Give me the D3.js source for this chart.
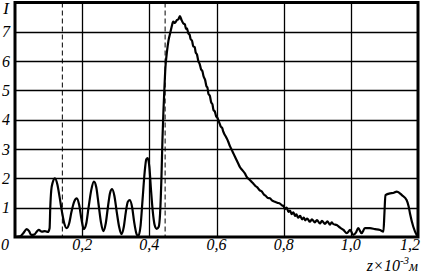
<!DOCTYPE html>
<html>
<head>
<meta charset="utf-8">
<script src="https://cdn.jsdelivr.net/npm/d3@7"></script>
<style>
  body { margin: 0; background: #fff; }
  svg text { font-family: "Liberation Serif", "DejaVu Serif", serif; font-style: italic; }
</style>
</head>
<body>
<div id="chart"></div>
<script>
// Intensity profile along z (x10^-3 m)
const zValues = [0, 0.015, 0.024, 0.035, 0.042, 0.048, 0.057, 0.066, 0.071, 0.080, 0.089, 0.098,
  0.103, 0.105, 0.108, 0.112, 0.119, 0.126, 0.133, 0.140, 0.147, 0.154, 0.161, 0.168, 0.176,
  0.184, 0.191, 0.198, 0.205, 0.212, 0.219, 0.227, 0.235, 0.242, 0.249, 0.256, 0.263, 0.270,
  0.277, 0.283, 0.289, 0.296, 0.303, 0.310, 0.317, 0.324, 0.330, 0.336, 0.342, 0.349, 0.355,
  0.362, 0.367, 0.374, 0.380, 0.386, 0.391, 0.395, 0.400, 0.405, 0.410, 0.416, 0.422, 0.428,
  0.432, 0.436, 0.439, 0.442, 0.445, 0.448, 0.452, 0.457, 0.462, 0.467, 0.471, 0.476,
  0.482, 0.486, 0.491, 0.496, 0.501, 0.506, 0.509, 0.512, 0.516, 0.520, 0.523, 0.527, 0.531,
  0.535, 0.538, 0.542, 0.546, 0.550, 0.554, 0.558, 0.561, 0.566, 0.570, 0.573, 0.576, 0.580,
  0.584, 0.588, 0.591, 0.595, 0.599, 0.603, 0.606, 0.610, 0.613, 0.617, 0.620, 0.624, 0.628,
  0.632, 0.635, 0.640, 0.645, 0.650, 0.655, 0.660, 0.665, 0.670, 0.677, 0.685, 0.690, 0.697,
  0.703, 0.710, 0.716, 0.721, 0.728, 0.735, 0.741, 0.747, 0.753, 0.759, 0.766, 0.774, 0.781,
  0.789, 0.795, 0.800, 0.804, 0.809, 0.814, 0.819, 0.824, 0.829, 0.834, 0.838, 0.843, 0.849,
  0.855, 0.860, 0.864, 0.870, 0.878, 0.884, 0.893, 0.899, 0.908, 0.914, 0.923, 0.930, 0.938,
  0.943, 0.948, 0.958, 0.968, 0.978, 0.988, 0.998, 1.007, 1.015, 1.022, 1.032, 1.042, 1.057,
  1.072, 1.087, 1.097, 1.100, 1.103, 1.117, 1.126, 1.137, 1.152, 1.166, 1.172, 1.176, 1.186,
  1.196, 1.200];
const intensity = [0, 0.02, 0.12, 0.27, 0.2, 0.07, 0.08, 0.2, 0.24, 0.18, 0.2, 0.17,
  0.3, 1.0, 1.6, 1.85, 2.0, 1.8, 1.35, 0.85, 0.45, 0.3, 0.45, 0.85, 1.2,
  1.32, 1.1, 0.6, 0.27, 0.45, 1.0, 1.6, 1.89, 1.7, 1.1, 0.5, 0.2, 0.45,
  1.05, 1.5, 1.63, 1.4, 0.85, 0.35, 0.1, 0.35, 0.85, 1.2, 1.26, 1.0, 0.5,
  0.1, 0.03, 0.4, 1.3, 2.2, 2.65, 2.69, 2.4, 1.6, 0.9, 0.4, 0.28, 0.35,
  0.8, 2.0, 3.3, 4.3, 5.1, 5.8, 6.27, 6.7, 6.95, 7.2, 7.35, 7.3,
  7.4, 7.42, 7.54, 7.4, 7.29, 7.25, 7.1, 7.12, 6.95, 6.9, 6.75, 6.7, 6.5,
  6.48, 6.3, 6.22, 6.0, 5.9, 5.72, 5.66, 5.5, 5.36, 5.15, 5.1, 4.88, 4.82,
  4.6, 4.52, 4.33, 4.28, 4.12, 4.06, 3.97, 3.85, 3.76, 3.72, 3.6, 3.5, 3.42,
  3.33, 3.25, 3.1, 2.98, 2.86, 2.74, 2.62, 2.5, 2.38, 2.28, 2.16, 2.05, 1.97,
  1.9, 1.82, 1.74, 1.7, 1.6, 1.55, 1.45, 1.4, 1.33, 1.32, 1.24, 1.2, 1.17,
  1.14, 1.08, 1.05, 0.95, 1.0, 0.86, 0.9, 0.78, 0.84, 0.72, 0.77, 0.66, 0.72,
  0.6, 0.66, 0.57, 0.63, 0.52, 0.6, 0.5, 0.58, 0.46, 0.55, 0.45, 0.53, 0.42,
  0.5, 0.44, 0.41, 0.32, 0.24, 0.13, 0.24, 0.07, 0.15, 0.3, 0.13, 0.3, 0.3,
  0.27, 0.24, 0.18, 0.8, 1.43, 1.49, 1.5, 1.55, 1.43, 1.26, 1.05, 0.81, 0.35,
  0.07, 0];
const yTicks = [1, 2, 3, 4, 5, 6, 7];
const yLabels = ["1", "2", "3", "4", "5", "6", "7"];
const xTicks = [0.2, 0.4, 0.6, 0.8, 1.0, 1.2];
const xLabels = ["0,2", "0,4", "0,6", "0,8", "1,0", "1,2"];
const dashedAt = [0.141, 0.447];

const width = 422, height = 275;
const plotLeft = 15, plotRight = 418, plotTop = 2.5, plotBottom = 237;

const x = d3.scaleLinear().domain([0, 1.2]).range([plotLeft, plotRight]);
const y = d3.scaleLinear().domain([0, 8]).range([plotBottom, plotTop]);

const svg = d3.select('#chart').append('svg')
  .attr('width', width)
  .attr('height', height);

// Grid
svg.append('g')
  .selectAll('line')
  .data(yTicks)
  .join('line')
  .attr('x1', plotLeft).attr('x2', plotRight)
  .attr('y1', d => Math.round(y(d)) + 0.5).attr('y2', d => Math.round(y(d)) + 0.5)
  .attr('stroke', '#000').attr('stroke-width', 1.3);

svg.append('g')
  .selectAll('line')
  .data(xTicks.slice(0, -1))
  .join('line')
  .attr('x1', d => Math.round(x(d)) + 0.5).attr('x2', d => Math.round(x(d)) + 0.5)
  .attr('y1', plotTop).attr('y2', plotBottom)
  .attr('stroke', '#000').attr('stroke-width', 1.3);

// Dashed markers
svg.append('g')
  .selectAll('line')
  .data(dashedAt)
  .join('line')
  .attr('x1', d => x(d)).attr('x2', d => x(d))
  .attr('y1', plotTop).attr('y2', plotBottom)
  .attr('stroke', '#000').attr('stroke-width', 1)
  .attr('stroke-dasharray', '5,3');

// Curve
const line = d3.line()
  .x((d, i) => x(zValues[i]))
  .y(d => y(d))
  .curve(d3.curveMonotoneX);

svg.append('path')
  .datum(intensity)
  .attr('fill', 'none')
  .attr('stroke', '#000')
  .attr('stroke-width', 2.2)
  .attr('stroke-linejoin', 'round')
  .attr('d', line);

// Frame
svg.append('rect')
  .attr('x', plotLeft).attr('y', plotTop)
  .attr('width', plotRight - plotLeft).attr('height', plotBottom - plotTop)
  .attr('fill', 'none')
  .attr('stroke', '#000').attr('stroke-width', 3);

// Y labels
svg.append('g')
  .selectAll('text')
  .data(yTicks)
  .join('text')
  .attr('x', 6)
  .attr('y', d => y(d) + 5.5)
  .attr('text-anchor', 'middle')
  .attr('font-size', 16)
  .text((d, i) => yLabels[i]);

svg.append('text')
  .attr('x', 6).attr('y', 14)
  .attr('text-anchor', 'middle')
  .attr('font-size', 17)
  .text('I');

// X labels
svg.append('text')
  .attr('x', 5).attr('y', 250)
  .attr('text-anchor', 'middle')
  .attr('font-size', 16)
  .text('0');

svg.append('g')
  .selectAll('text')
  .data(xTicks)
  .join('text')
  .attr('x', (d, i) => i === xTicks.length - 1 ? plotRight + 2 : x(d))
  .attr('y', 250)
  .attr('text-anchor', (d, i) => i === xTicks.length - 1 ? 'end' : 'middle')
  .attr('font-size', 16)
  .text((d, i) => xLabels[i]);

// Axis title
const title = svg.append('text')
  .attr('x', plotRight).attr('y', 271)
  .attr('text-anchor', 'end')
  .attr('font-size', 16);
title.append('tspan').text('z×10');
title.append('tspan').attr('dy', -7).attr('font-size', 11).text('-3');
title.append('tspan').attr('dy', 7).attr('font-size', 14).text('м');
</script>
</body>
</html>
